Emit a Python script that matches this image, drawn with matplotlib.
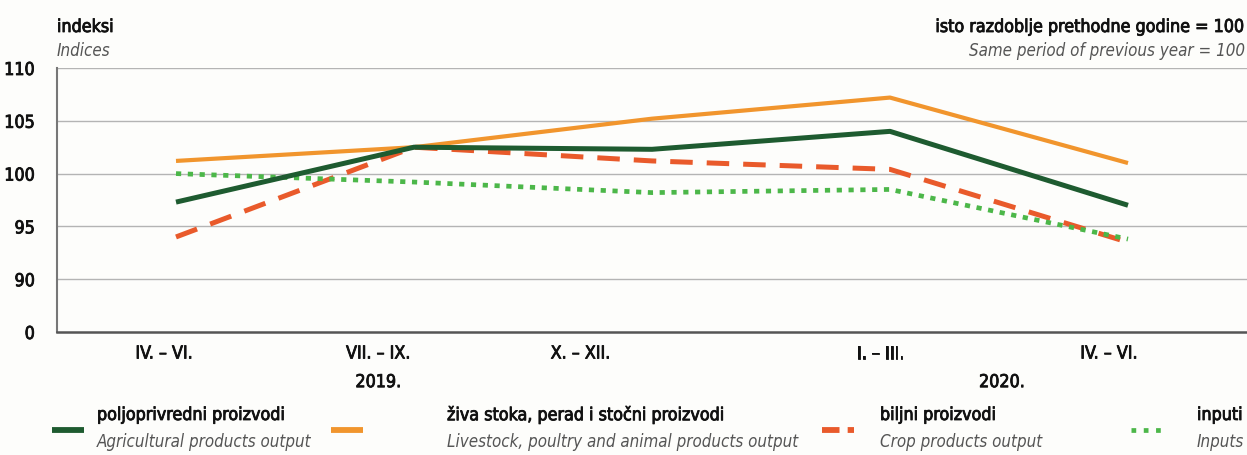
import matplotlib.pyplot as plt
import matplotlib.patheffects as pe
from matplotlib.lines import Line2D

plt.rcParams['font.family'] = ['DejaVu Sans']
plt.rcParams['font.stretch'] = 'condensed'

# Data
periods = ["IV. – VI.", "VII. – IX.", "X. – XII.", "I. – III.", "IV. – VI."]
years = ["2019.", "2020."]
agri = [97.3, 102.5, 102.3, 104.0, 97.0]
livestock = [101.2, 102.5, 105.2, 107.2, 101.0]
crops = [94.0, 102.5, 101.2, 100.4, 93.5]
inputs = [100.0, 99.2, 98.2, 98.5, 93.8]
yticks = [85, 90, 95, 100, 105, 110]
ytick_labels = ["0", "90", "95", "100", "105", "110"]

c_agri = '#1e5b30'
c_live = '#f1952d'
c_crop = '#e95a2b'
c_inp = '#4cb749'
c_txt = '#111111'
c_it = '#555555'
fs = 12.8
fs_it = 12.2
# slightly heavier strokes for the dark labels (medium weight look)
heavy = [pe.withStroke(linewidth=0.6, foreground=c_txt)]

fig = plt.figure(figsize=(12.47, 4.55), dpi=100)
fig.patch.set_facecolor('#fdfdfb')
ax = fig.add_axes([57 / 1247, 1 - 332 / 455, 1 - 57 / 1247, 264 / 455])
ax.set_facecolor('#fdfdfb')

x = list(range(len(periods)))
ax.plot(x, livestock, color=c_live, lw=3.0, solid_capstyle='butt', zorder=3)
ax.plot(x, agri, color=c_agri, lw=3.6, solid_capstyle='butt', zorder=4)
ax.plot(x, crops, color=c_crop, lw=3.6, dashes=(4.5, 2.8), zorder=3)
ax.plot(x, inputs, color=c_inp, lw=3.4, dashes=(1.1, 1.4), zorder=3)

ax.set_xlim(-0.5, 4.5)
ax.set_ylim(85, 110)
ax.set_yticks(yticks)
ax.set_yticklabels(ytick_labels)
for y in yticks[1:]:
    ax.axhline(y, color='#b4b4b4', lw=1.0, zorder=1)

# tick labels sit slightly left of the data points in the original
label_shift = [-0.05, -0.15, -0.3, -0.04, -0.08]
ax.set_xticks([i + s for i, s in zip(x, label_shift)])
ax.set_xticklabels(periods)
ax.tick_params(axis='both', length=0, labelsize=fs, colors=c_txt)
ax.tick_params(axis='x', pad=9)
ax.tick_params(axis='y', pad=16)
for t in ax.get_xticklabels() + ax.get_yticklabels():
    t.set_path_effects(heavy)

for s in ['top', 'right']:
    ax.spines[s].set_visible(False)
ax.spines['left'].set_color('#777777')
ax.spines['left'].set_linewidth(1.5)
ax.spines['bottom'].set_color('#555555')
ax.spines['bottom'].set_linewidth(1.8)

# axis break mark
for dy in (0, 0.012):
    ax.plot([-0.545, -0.455], [0.115 + dy, 0.215 + dy], transform=ax.transAxes,
            color='#777777', lw=1.2, clip_on=False)

# year labels
ax.text(0.85, -0.19, years[0], transform=ax.get_xaxis_transform(), ha='center',
        va='center', fontsize=fs, color=c_txt, path_effects=heavy)
ax.text(3.47, -0.19, years[1], transform=ax.get_xaxis_transform(), ha='center',
        va='center', fontsize=fs, color=c_txt, path_effects=heavy)

# header texts
fig.text(57 / 1247, 1 - 27 / 455, "indeksi", fontsize=fs, va='center', color=c_txt, path_effects=heavy)
fig.text(57 / 1247, 1 - 51 / 455, "Indices", fontsize=fs_it, style='italic', va='center', color=c_it)
fig.text(1245 / 1247, 1 - 27 / 455, "isto razdoblje prethodne godine = 100", fontsize=fs,
         ha='right', va='center', color=c_txt, path_effects=heavy)
fig.text(1245 / 1247, 1 - 51 / 455, "Same period of previous year = 100", fontsize=fs_it,
         style='italic', ha='right', va='center', color=c_it)

# legend
legend_items = [
    ("poljoprivredni proizvodi", "Agricultural products output", c_agri, dict(lw=4.2)),
    ("živa stoka, perad i stočni proizvodi", "Livestock, poultry and animal products output", c_live, dict(lw=4.2)),
    ("biljni proizvodi", "Crop products output", c_crop, dict(lw=4.2, dashes=(3, 1.4))),
    ("inputi", "Inputs", c_inp, dict(lw=3.4, dashes=(1, 1.6))),
]
sample_x = [52, 331, 822, 1131]
text_x = [97, 447, 880, 1197]
for (lab, lab_en, col, kw), sx, tx in zip(legend_items, sample_x, text_x):
    fig.add_artist(Line2D([sx / 1247, (sx + 32) / 1247], [1 - 430 / 455] * 2,
                          color=col, solid_capstyle='butt', **kw))
    fig.text(tx / 1247, 1 - 415 / 455, lab, fontsize=fs, va='center', color=c_txt, path_effects=heavy)
    fig.text(tx / 1247, 1 - 442 / 455, lab_en, fontsize=fs_it, style='italic', va='center', color=c_it)

fig.savefig('out.png', dpi=100, facecolor=fig.get_facecolor())
